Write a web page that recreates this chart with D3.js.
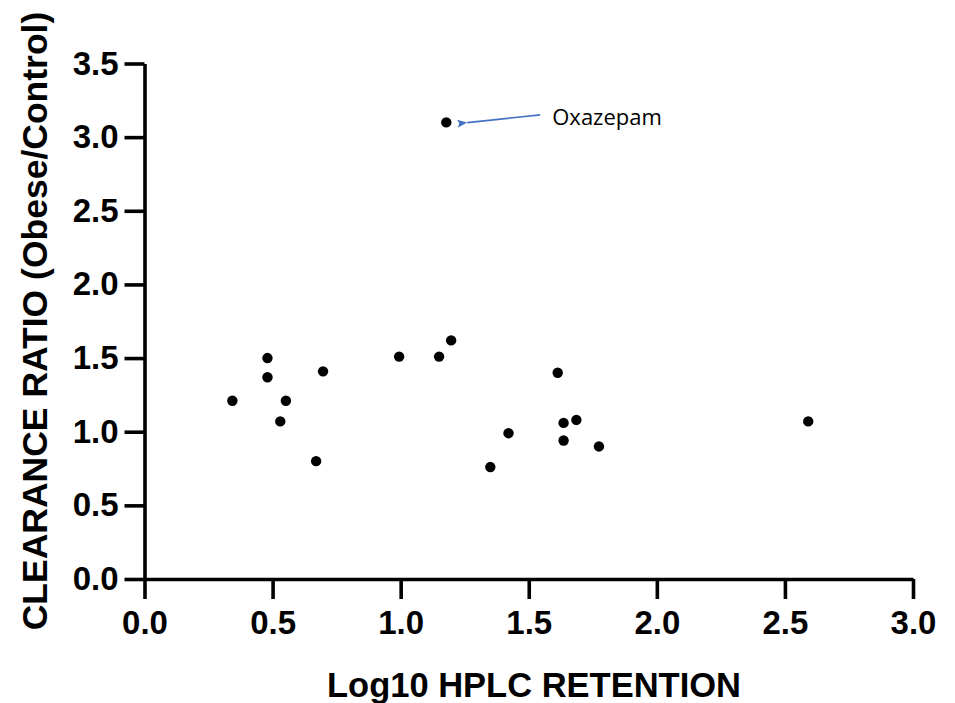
<!DOCTYPE html>
<html>
<head>
<meta charset="utf-8">
<script src="https://cdn.jsdelivr.net/npm/d3@7"></script>
<style>
  body { margin: 0; background: #fff; }
  .axis text { font-family: "Liberation Sans", Arial, sans-serif; font-weight: bold; font-size: 33px; fill: #000; }
</style>
</head>
<body>
<svg id="chart" width="955" height="703"></svg>
<script>
// Log10 HPLC retention vs clearance ratio, one drug per point
const retention = [0.343, 0.480, 0.480, 0.552, 0.530, 0.697, 0.670, 0.994, 1.150, 1.197,
  1.350, 1.421, 1.613, 1.636, 1.686, 1.636, 1.774, 2.591, 1.178];
const clearanceRatio = [1.21, 1.50, 1.37, 1.21, 1.07, 1.41, 0.80, 1.51, 1.51, 1.62,
  0.76, 0.99, 1.40, 1.06, 1.08, 0.94, 0.90, 1.07, 3.10];
const xTicks = [0, 0.5, 1, 1.5, 2, 2.5, 3];
const yTicks = [0, 0.5, 1, 1.5, 2, 2.5, 3, 3.5];
const note = { label: "Oxazepam", index: 18 };

const svg = d3.select("#chart");
const margin = { left: 144.5, right: 42, top: 63.5, bottom: 124 };
const width = +svg.attr("width"), height = +svg.attr("height");

const x = d3.scaleLinear().domain([0, 3]).range([margin.left, width - margin.right]);
const y = d3.scaleLinear().domain([0, 3.5]).range([height - margin.bottom, margin.top]);

const points = retention.map((r, i) => ({ x: r, y: clearanceRatio[i] }));

const xAxis = svg.append("g")
  .attr("class", "axis")
  .attr("transform", `translate(0,${y(0)})`)
  .call(d3.axisBottom(x).tickValues(xTicks).tickFormat(d3.format(".1f")).tickSize(20).tickPadding(12).tickSizeOuter(0));

const yAxis = svg.append("g")
  .attr("class", "axis")
  .attr("transform", `translate(${x(0)},0)`)
  .call(d3.axisLeft(y).tickValues(yTicks).tickFormat(d3.format(".1f")).tickSize(20).tickPadding(6).tickSizeOuter(0));

[xAxis, yAxis].forEach(g => {
  g.selectAll("path, line").attr("stroke", "#000").attr("stroke-width", 3.6);
});

svg.selectAll("circle.dot")
  .data(points)
  .enter()
  .append("circle")
  .attr("class", "dot")
  .attr("cx", d => x(d.x))
  .attr("cy", d => y(d.y))
  .attr("r", 5.2)
  .attr("fill", "#000");

// axis titles
svg.append("text")
  .attr("x", 534)
  .attr("y", 697)
  .attr("text-anchor", "middle")
  .style("font-family", "Liberation Sans, Arial, sans-serif")
  .style("font-weight", "bold")
  .style("font-size", "34.5px")
  .text("Log10 HPLC RETENTION");

svg.append("text")
  .attr("transform", "translate(47,321) rotate(-90)")
  .attr("text-anchor", "middle")
  .style("font-family", "Liberation Sans, Arial, sans-serif")
  .style("font-weight", "bold")
  .style("font-size", "35.5px")
  .text("CLEARANCE RATIO (Obese/Control)");

// annotation arrow
const defs = svg.append("defs");
defs.append("marker")
  .attr("id", "arrow")
  .attr("viewBox", "0 0 10 8")
  .attr("refX", 0)
  .attr("refY", 4)
  .attr("markerUnits", "userSpaceOnUse")
  .attr("markerWidth", 10)
  .attr("markerHeight", 8)
  .attr("orient", "auto")
  .append("path")
  .attr("d", "M10,0 L0,4 L10,8 L8,4 Z")
  .attr("fill", "#4472C4");

const target = points[note.index];
svg.append("line")
  .attr("x1", x(target.x) + 94)
  .attr("y1", y(target.y) - 7.5)
  .attr("x2", x(target.x) + 21)
  .attr("y2", y(target.y) + 0.2)
  .attr("stroke", "#4472C4")
  .attr("stroke-width", 1.6)
  .attr("marker-end", "url(#arrow)");

svg.append("text")
  .attr("x", x(target.x) + 106)
  .attr("y", y(target.y) + 2.5)
  .style("font-family", "Open Sans, sans-serif")
  .style("font-size", "22px")
  .attr("fill", "#000")
  .text(note.label);
</script>
</body>
</html>
